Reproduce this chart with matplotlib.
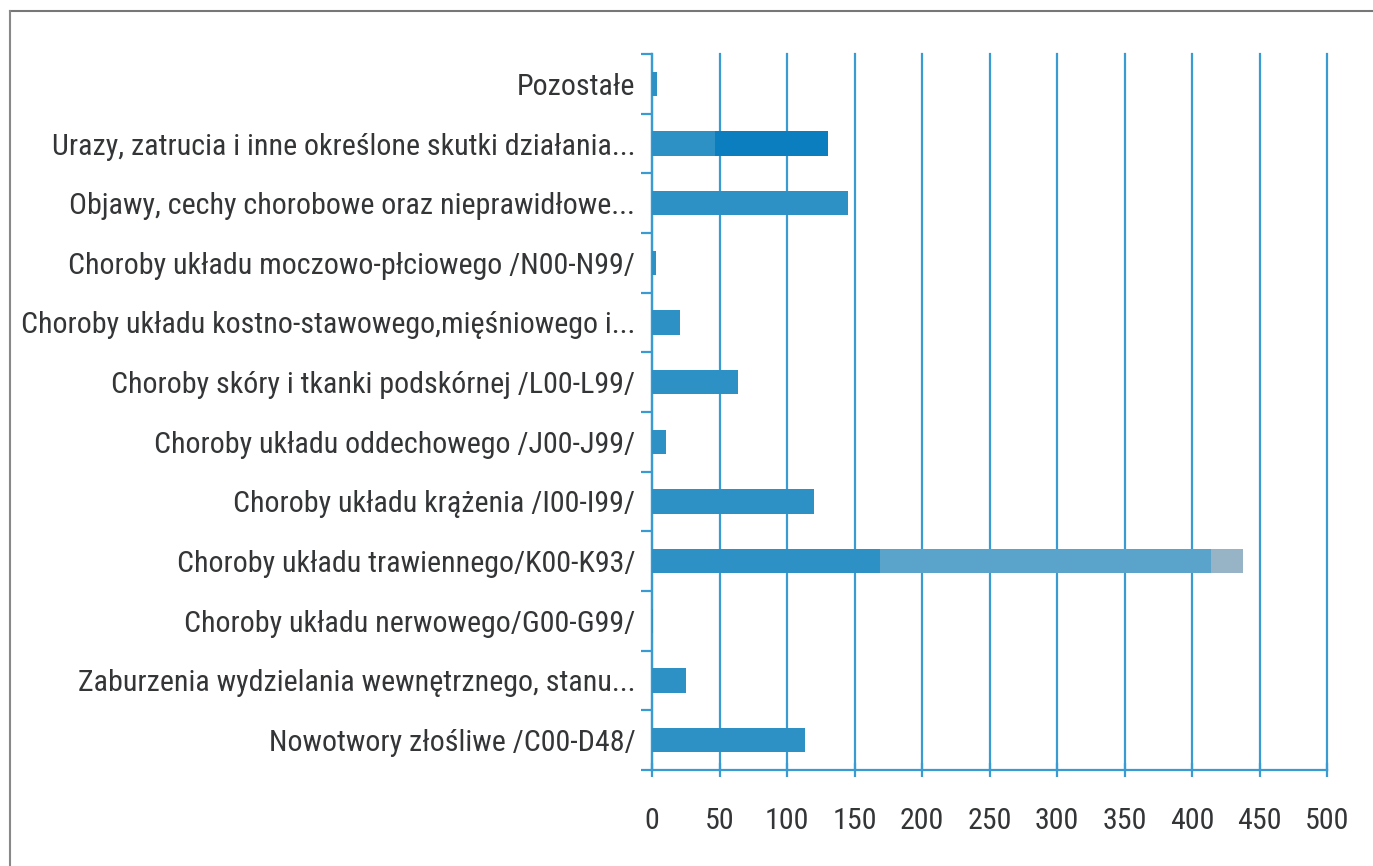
import matplotlib
matplotlib.use("Agg")
import matplotlib.pyplot as plt
from matplotlib.lines import Line2D
from matplotlib import font_manager

# Kategorie od góry do dołu
labels = [
    "Pozostałe",
    "Urazy, zatrucia i inne określone skutki działania...",
    "Objawy, cechy chorobowe oraz nieprawidłowe...",
    "Choroby układu moczowo-płciowego /N00-N99/",
    "Choroby układu kostno-stawowego,mięśniowego i...",
    "Choroby skóry i tkanki podskórnej /L00-L99/",
    "Choroby układu oddechowego /J00-J99/",
    "Choroby układu krążenia /I00-I99/",
    "Choroby układu trawiennego/K00-K93/",
    "Choroby układu nerwowego/G00-G99/",
    "Zaburzenia wydzielania wewnętrznego, stanu...",
    "Nowotwory złośliwe /C00-D48/",
]
series_1 = [4, 47, 145, 3, 21, 64, 10, 120, 169, 1, 25, 113]
series_2 = [0, 83, 0, 0, 0, 0, 0, 0, 0, 0, 0, 0]
series_3 = [0, 0, 0, 0, 0, 0, 0, 0, 245, 0, 0, 0]
series_4 = [0, 0, 0, 0, 0, 0, 0, 0, 24, 0, 0, 0]
x_ticks = [0, 50, 100, 150, 200, 250, 300, 350, 400, 450, 500]

colors = ["#2E91C5", "#0B7EC0", "#5AA3CA", "#97B3C6"]
blue = "#3A9AD2"
text_col = "#333537"


def pick_narrow_font():
    # szukamy zwężonego kroju (jak Calibri w oryginale)
    fl = font_manager.fontManager.ttflist
    for f in fl:
        if f.name == "Liberation Sans Narrow" and f.weight in (400, "normal", "regular") and f.style == "normal":
            return f.fname
    for fam in ["Roboto Condensed", "Open Sans Condensed", "Noto Sans Condensed", "DejaVu Sans Condensed"]:
        for f in fl:
            if f.name == fam and f.style == "normal":
                return f.fname
    for fam in ["DejaVu Sans", "Noto Sans", "Open Sans", "Roboto"]:
        for f in fl:
            st = str(f.stretch)
            if f.name == fam and f.style == "normal" and f.weight in (400, "normal", "regular") \
                    and ("condensed" in st and "semi" not in st or st in ("75", "62.5")):
                return f.fname
    return None


fname = pick_narrow_font()
if fname:
    fp = font_manager.FontProperties(fname=fname)
else:
    fp = font_manager.FontProperties(family="DejaVu Sans")

fig = plt.figure(figsize=(13.73, 8.66), dpi=100)
ax = fig.add_axes([0.4749, 0.111, 0.4916, 0.8266])

y = list(range(len(labels)))
left = [0] * len(labels)
for vals, c in zip([series_1, series_2, series_3, series_4], colors):
    ax.barh(y, vals, left=left, height=0.41, color=c, zorder=3)
    left = [a + b for a, b in zip(left, vals)]

ax.set_xlim(0, 500)
ax.set_ylim(len(labels) - 0.5, -0.5)
ax.set_xticks(x_ticks)
ax.set_xticklabels([str(t) for t in x_ticks])
ax.set_yticks(y)
ax.set_yticklabels(labels)
ax.set_yticks([i - 0.5 for i in range(len(labels) + 1)], minor=True)

ax.grid(axis="x", color=blue, linewidth=1.6, zorder=0)
for gl in ax.get_xgridlines():
    gl.set_clip_on(False)
for s in ["top", "right"]:
    ax.spines[s].set_visible(False)
for s in ["left", "bottom"]:
    ax.spines[s].set_color(blue)
    ax.spines[s].set_linewidth(1.6)

ax.tick_params(axis="y", which="major", length=0, pad=12, labelcolor=text_col)
ax.tick_params(axis="y", which="minor", length=8, width=1.6, color=blue, direction="out")
ax.tick_params(axis="x", length=10, width=1.6, color=blue, direction="inout",
               pad=22, labelcolor=text_col)

# dopasowanie rozmiaru czcionki do szerokości etykiet z oryginału
renderer = fig.canvas.get_renderer()
probe = fig.text(0, 0, labels[4], fontproperties=fp, fontsize=20)
w = probe.get_window_extent(renderer).width
probe.remove()
label_size = min(24, 20 * 615 / w)
probe = fig.text(0, 0, "500", fontproperties=fp, fontsize=20)
w = probe.get_window_extent(renderer).width
probe.remove()
tick_size = min(26, max(label_size, 20 * 40 / w))

for t in ax.get_yticklabels():
    t.set_fontproperties(fp)
    t.set_fontsize(label_size)
for t in ax.get_xticklabels():
    t.set_fontproperties(fp)
    t.set_fontsize(tick_size)

# ramka skanu
fig.add_artist(Line2D([0.007, 1.0], [0.987, 0.987], color="#777777", linewidth=1.5))
fig.add_artist(Line2D([0.007, 0.007], [0.0, 0.987], color="#888888", linewidth=1.5))

fig.savefig("out.png", dpi=100)
